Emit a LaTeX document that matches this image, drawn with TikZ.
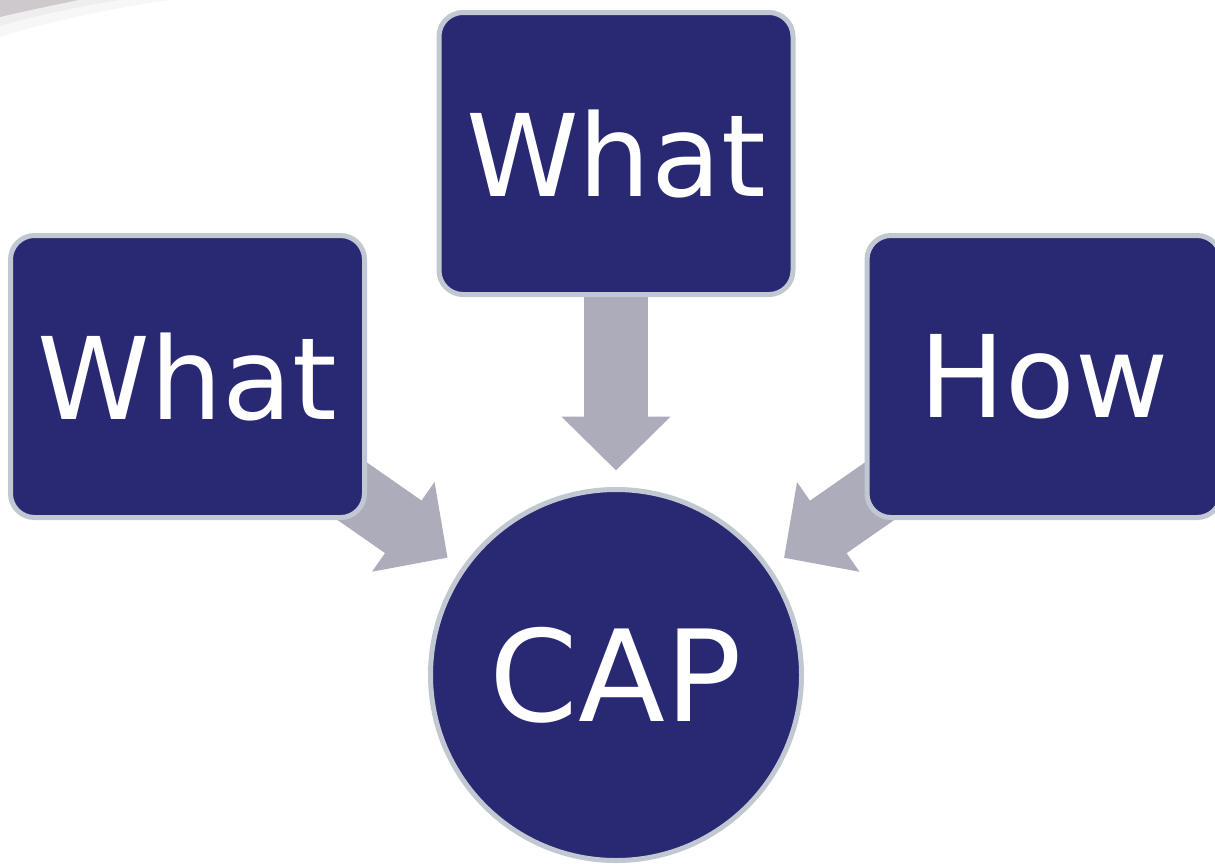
\documentclass[tikz,border=0pt]{standalone}
\usepackage{fontspec}
\setmainfont{DejaVu Sans}
\usetikzlibrary{arrows.meta,calc,backgrounds}
\definecolor{navy}{HTML}{282873}
\definecolor{rim}{HTML}{C2C8D2}
\definecolor{arrgray}{HTML}{ACACBB}
\definecolor{swoosh}{HTML}{CDC9CD}
\tikzset{
  boxnode/.style={draw=rim, line width=5pt, fill=navy, rounded corners=24pt,
    minimum width=354pt, minimum height=282pt, inner sep=0pt, text=white,
    font=\fontsize{114}{120}\selectfont},
  capnode/.style={circle, draw=rim, line width=5pt, fill=navy, minimum size=371pt,
    inner sep=0pt, text=white, font=\fontsize{127}{130}\selectfont},
  blockarrow/.style={draw=arrgray, line width=64pt,
    -{Triangle[width=106pt,length=54pt]}}
}
\begin{document}
\begin{tikzpicture}[x=1pt,y=-1pt]
\useasboundingbox (0,0) rectangle (1215,863);
\node[boxnode] (L) at (187.5,376.5) {What};
\node[boxnode] (T) at (616,153.5) {What};
\node[boxnode] (R) at (1044,376.5) {How};
\node[capnode] (C) at (616,675) {CAP};
\begin{pgfonlayer}{background}
  \fill[white] (0,0) rectangle (1215,863);
  \fill[gray!6] (0,0) -- (170,0) .. controls (110,8) and (40,24) .. (0,37) -- cycle;
  \fill[gray!13] (0,0) -- (120,0) .. controls (80,6) and (30,17) .. (0,26) -- cycle;
  \fill[swoosh] (0,0) -- (78,0) .. controls (50,6) and (20,12) .. (0,17) -- cycle;
  \coordinate (eL) at ($(L.center)!317pt!(C.center)$);
  \coordinate (eT) at ($(T.center)!317pt!(C.center)$);
  \coordinate (eR) at ($(R.center)!317pt!(C.center)$);
  \draw[blockarrow] (L.center) -- (eL);
  \draw[blockarrow] (T.center) -- (eT);
  \draw[blockarrow] (R.center) -- (eR);
\end{pgfonlayer}
\end{tikzpicture}
\end{document}
